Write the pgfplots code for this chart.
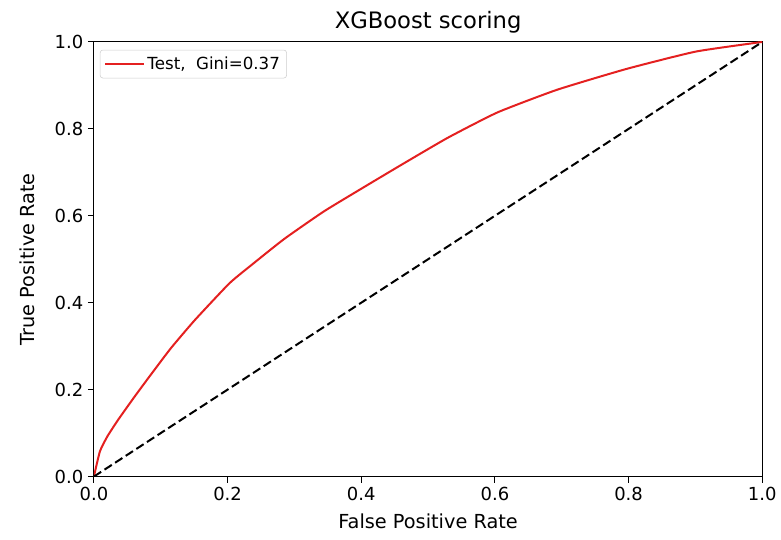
\documentclass[border=0pt]{standalone}
\usepackage{fontspec}
\setmainfont{DejaVu Sans}
\usepackage{pgfplots}
\pgfplotsset{compat=1.18}

\definecolor{rocred}{RGB}{228,32,32}

\begin{document}
\begin{tikzpicture}
\begin{axis}[
  scale only axis,
  width=501.75pt, height=326.25pt,
  xmin=0, xmax=1, ymin=0, ymax=1,
  xtick={0,0.2,...,1.0}, ytick={0,0.2,...,1.0},
  xticklabel style={/pgf/number format/.cd,fixed,fixed zerofill,precision=1},
  yticklabel style={/pgf/number format/.cd,fixed,fixed zerofill,precision=1},
  /pgf/number format/assume math mode=true,
  tick label style={font=\fontsize{13.5}{15}\selectfont},
  tick align=outside,
  xtick pos=bottom, ytick pos=left,
  major tick length=4.5pt,
  every tick/.style={black, line width=0.7pt},
  axis line style={line width=0.7pt},
  xlabel={False Positive Rate},
  ylabel={True Positive Rate},
  label style={font=\fontsize{14.5}{16}\selectfont},
  xlabel style={yshift=-3pt},
  ylabel style={yshift=8pt},
  title={XGBoost scoring},
  title style={font=\fontsize{17}{19}\selectfont, yshift=-3pt},
  legend style={font=\fontsize{12.5}{14}\selectfont, draw=black!20, rounded corners=2pt,
    inner xsep=3pt, inner ysep=3pt, at={(0.009,0.982)}, anchor=north west},
  legend image code/.code={
    \draw[#1] (0pt,0pt) -- (24pt,0pt);
    \path (0pt,0pt) -- (29pt,0pt);
  },
  legend cell align=left,
]
\coordinate (sw) at (rel axis cs:0,0);
\coordinate (ne) at (rel axis cs:1,1);

\addplot[rocred, line width=1.5pt, smooth, tension=0.3] coordinates {
  (0.000,0.000) (0.009,0.058) (0.020,0.092) (0.036,0.130) (0.060,0.182)
  (0.084,0.232) (0.115,0.295) (0.151,0.360) (0.203,0.445) (0.240,0.492)
  (0.285,0.547) (0.344,0.610) (0.403,0.665) (0.463,0.720) (0.530,0.780)
  (0.604,0.838) (0.693,0.890) (0.797,0.938) (0.901,0.978) (1.000,1.000)
};
\addlegendentry{Test,\ \ Gini=0.37}

\addplot[black, line width=1.5pt, dash pattern=on 6.5pt off 3pt, forget plot]
  coordinates {(0,0) (1,1)};
\end{axis}
\path[use as bounding box] ([xshift=-70.5pt,yshift=-47.25pt]sw) rectangle ([xshift=13.5pt,yshift=31.5pt]ne);
\end{tikzpicture}
\end{document}
